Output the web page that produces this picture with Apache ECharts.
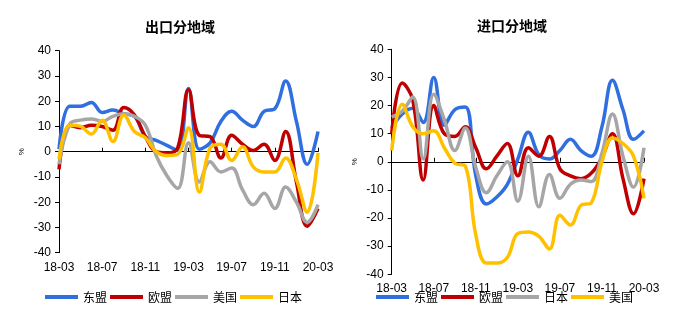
<!DOCTYPE html>
<html>
<head>
<meta charset="utf-8">
<script src="https://cdn.jsdelivr.net/npm/echarts@6/dist/echarts.min.js"></script>
<style>html,body{margin:0;padding:0;background:#fff;}#c{width:686px;height:330px;}</style>
</head>
<body>
<div id="c"></div>
<script>
const months = ['18-03','18-04','18-05','18-06','18-07','18-08','18-09','18-10','18-11','18-12','19-01','19-02','19-03','19-04','19-05','19-06','19-07','19-08','19-09','19-10','19-11','19-12','20-01','20-02','20-03'];

// 出口分地域 (export)
const exAsean = [1,18,18,19.5,15.5,16.5,15,14,6,4.5,2.5,0.5,25,1,3.5,12,16,12.5,10,16,17,28,12,-5,8];
const exEU    = [-7,10.5,9.5,10.5,10,8.5,17.5,14.5,6,0,-0.5,1.5,24.5,6.5,6,-2.5,6.5,3,0.5,3,-3.5,8,-12,-29.5,-22.5];
const exUS    = [-5,11,12.5,13,12,14,15,14,10.5,-1.5,-9.5,-14.5,3.5,-12,-4,-8,-6.5,-15,-21,-16.5,-22.5,-14,-20,-28,-21];
const exJP    = [-3,10.5,10,7,12.5,4,14.5,8,5.5,0,-1.5,-1,9.5,-16,1.5,3,-3.5,2,-6,-8,-8,-2.5,-11,-24,-0.5];

// 进口分地域 (import)
const imAsean = [12,17,19,14,30,13,18.5,19.5,-5,-15,-12.5,-8,1,10.5,2.5,1,4,8,4,2,12.5,29,18.5,8,11];
const imEU    = [10,28,22,-6.5,20,10,9,12.5,5,-2.5,2,6.5,-5,5,2,9,-2.5,-5,-6,-4,1.5,10,-6,-18.5,-6];
const imJP    = [16,18,23,1,24,15,4,12,-2,-11,-5,0,-14,2,-16,-4.5,-13,-8,-6.5,-7,3,17,2,-9,5];
const imUS    = [4,20.5,12.5,10,11,5,-0.5,-1.5,-26,-36,-36,-34,-25.5,-25,-26.5,-31,-19,-22.5,-15.5,-14.5,0,8.5,6.5,2,-13];

const yTicks = {min:-40, max:40, interval:10};
const titles = ['出口分地域','进口分地域'];

const C = {blue:'#2F6FE0', red:'#C00000', gray:'#A6A6A6', yellow:'#FFC000'};
const FONT = 'Liberation Sans, Arial, sans-serif';
const CJK = 'Noto Sans CJK SC';

function yAxis(grid){
  return {
    type:'value', gridIndex:grid, min:yTicks.min, max:yTicks.max, interval:yTicks.interval,
    name:'%', nameLocation:'middle', nameRotate:90, nameGap:33,
    nameTextStyle:{fontSize:8, color:'#000', fontFamily:FONT},
    axisLine:{show:true, lineStyle:{color:'#000', width:1}},
    axisTick:{show:true, length:4, lineStyle:{color:'#000'}},
    axisLabel:{margin:8, fontSize:12, color:'#000', fontFamily:FONT},
    splitLine:{show:false}
  };
}
function xLabelAxis(grid, margin){
  return {
    type:'category', gridIndex:grid, data:months, boundaryGap:false, position:'bottom',
    axisLine:{show:false, onZero:false}, axisTick:{show:false},
    axisLabel:{interval:3, margin:margin, fontSize:12, color:'#000', fontFamily:FONT, showMinLabel:true, showMaxLabel:true},
    splitLine:{show:false}
  };
}
function xZeroAxis(grid){
  return {
    type:'category', gridIndex:grid, data:months, boundaryGap:false,
    axisLine:{show:true, onZero:true, lineStyle:{color:'#000', width:1}},
    axisTick:{show:true, interval:3, length:4, lineStyle:{color:'#000'}},
    axisLabel:{show:false}, splitLine:{show:false}
  };
}
function line(name, data, color, xi, yi){
  return {name, type:'line', data, xAxisIndex:xi, yAxisIndex:yi, smooth:0.4, symbol:'none',
    lineStyle:{color, width:3.5}, itemStyle:{color}, z:2};
}

const option = {
  backgroundColor:'#fff',
  animation:false,
  title:[
    {text:titles[0], left:175, top:15, textAlign:'center', textStyle:{fontFamily:CJK, fontSize:14, fontWeight:'bold', color:'#000'}},
    {text:titles[1], left:507, top:14, textAlign:'center', textStyle:{fontFamily:CJK, fontSize:14, fontWeight:'bold', color:'#000'}}
  ],
  grid:[
    {left:59, top:50.7, width:259, height:202, containLabel:false},
    {left:391.7, top:49.3, width:252.3, height:225, containLabel:false}
  ],
  xAxis:[xLabelAxis(0,9), xZeroAxis(0), xLabelAxis(1,8), xZeroAxis(1)],
  yAxis:[yAxis(0), yAxis(1)],
  legend:[
    {left:45, top:291, padding:0, itemWidth:33, itemHeight:4, itemGap:3,
     icon:'rect', textStyle:{fontFamily:CJK, fontSize:12, color:'#000'}, selectedMode:false},
    {left:376, top:291, padding:0, itemWidth:33, itemHeight:4, itemGap:3,
     icon:'rect', textStyle:{fontFamily:CJK, fontSize:12, color:'#000'}, selectedMode:false}
  ],
  series:[
    line('东盟', exAsean, C.blue, 0, 0),
    line('欧盟', exEU, C.red, 0, 0),
    line('美国', exUS, C.gray, 0, 0),
    line('日本', exJP, C.yellow, 0, 0),
    line('东盟', imAsean, C.blue, 2, 1),
    line('欧盟', imEU, C.red, 2, 1),
    line('日本', imJP, C.gray, 2, 1),
    line('美国', imUS, C.yellow, 2, 1)
  ]
};
// Legend colors differ between charts for 日本/美国; set per-legend item colors
option.legend[0].data = [
  {name:'东盟', itemStyle:{color:C.blue}}, {name:'欧盟', itemStyle:{color:C.red}},
  {name:'美国', itemStyle:{color:C.gray}}, {name:'日本', itemStyle:{color:C.yellow}}
];
option.legend[1].data = [
  {name:'东盟', itemStyle:{color:C.blue}}, {name:'欧盟', itemStyle:{color:C.red}},
  {name:'日本', itemStyle:{color:C.gray}}, {name:'美国', itemStyle:{color:C.yellow}}
];
const chart = echarts.init(document.getElementById('c'), null, {renderer:'canvas'});
chart.setOption(option);
</script>
</body>
</html>
